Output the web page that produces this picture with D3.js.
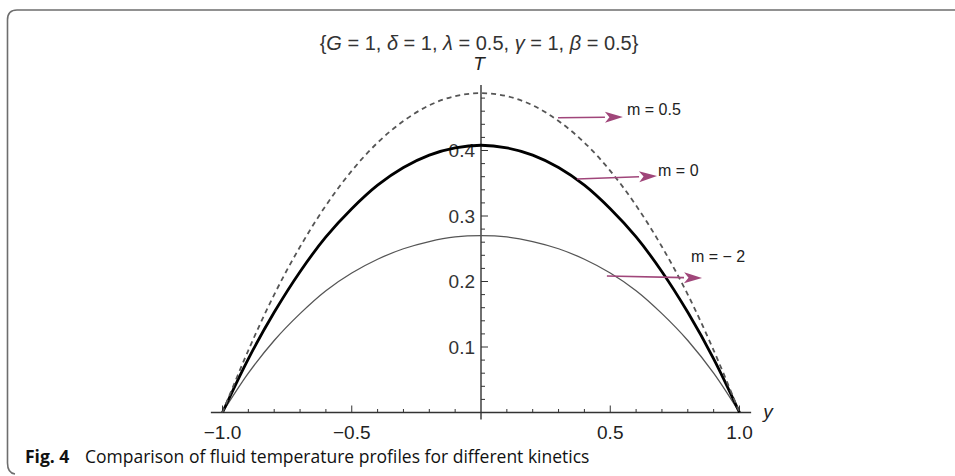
<!DOCTYPE html>
<html><head><meta charset="utf-8">
<script src="https://cdn.jsdelivr.net/npm/d3@7/dist/d3.min.js"></script>
<style>body{margin:0;background:#fff}svg{display:block}</style>
</head><body>
<svg id="c" width="955" height="476"></svg>
<script>
// ---- data ----
const yPos = [-1,-0.9,-0.8,-0.7,-0.6,-0.5,-0.4,-0.3,-0.2,-0.1,0,0.1,0.2,0.3,0.4,0.5,0.6,0.7,0.8,0.9,1];
const T_m05 = [0,0.095,0.180,0.253,0.316,0.369,0.412,0.445,0.469,0.483,0.4875,0.483,0.469,0.445,0.412,0.369,0.316,0.253,0.180,0.095,0];
const T_m0  = [0,0.082,0.153,0.215,0.268,0.311,0.347,0.374,0.393,0.404,0.408,0.404,0.393,0.374,0.347,0.311,0.268,0.215,0.153,0.082,0];
const T_m2  = [0,0.060,0.110,0.151,0.186,0.213,0.234,0.250,0.261,0.268,0.270,0.268,0.261,0.250,0.234,0.213,0.186,0.151,0.110,0.060,0];
const xMajor = [-1.0,-0.5,0.5,1.0];
const xMajorLabels = ["\u22121.0","\u22120.5","0.5","1.0"];
const yMajor = [0.1,0.2,0.3,0.4];
const yMajorLabels = ["0.1","0.2","0.3","0.4"];
const annLabels = ["m = 0.5","m = 0","m = \u2212 2"];
const annFrom = [[0.298,0.450],[0.371,0.3565],[0.487,0.2084]];
const annTo   = [[0.549,0.451],[0.681,0.361],[0.855,0.2053]];
const annText = [[0.565,0.462],[0.685,0.370],[0.812,0.239]];

const svg = d3.select("#c");
const x = d3.scaleLinear().domain([-1,1]).range([222.5,739.5]);
const y = d3.scaleLinear().domain([0,0.5]).range([412.5,85]);
const F = "'Liberation Sans', Arial, sans-serif";

// frame
svg.append("path").attr("d","M955,10 H17 Q7.5,10 7.5,20 V463 Q7.5,473 15,474")
  .attr("fill","none").attr("stroke","#6e6e6e").attr("stroke-width",1.6);

// axes
const ax = svg.append("g").attr("stroke","#333").attr("stroke-width",1.4);
ax.append("line").attr("x1",x(-1.045)).attr("x2",x(1.045)).attr("y1",y(0)).attr("y2",y(0));
ax.append("line").attr("x1",x(0)).attr("x2",x(0)).attr("y1",y(0)+7).attr("y2",y(0.5));
const xt = d3.range(-10,11).filter(d=>d!==0).map(d=>d/10);
ax.selectAll(".xt").data(xt).join("line")
  .attr("x1",d=>x(d)).attr("x2",d=>x(d)).attr("y1",y(0))
  .attr("y2",d=>y(0)-(Math.abs(Math.round(d*10))%5===0?7:3.5)).attr("stroke-width",1);
const yt = d3.range(1,25).map(d=>d/50);
ax.selectAll(".yt").data(yt).join("line")
  .attr("x1",x(0)).attr("x2",d=>x(0)+(Math.round(d*50)%5===0?7:4))
  .attr("y1",d=>y(d)).attr("y2",d=>y(d)).attr("stroke-width",1);

// tick labels
svg.selectAll(".xl").data(xMajor).join("text")
  .attr("x",d=>x(d)).attr("y",439).attr("text-anchor","middle")
  .attr("font-family",F).attr("font-size",19).attr("fill","#222")
  .text((d,i)=>xMajorLabels[i]);
svg.selectAll(".yl").data(yMajor).join("text")
  .attr("x",x(0)-6).attr("y",d=>y(d)).attr("dy","0.35em").attr("text-anchor","end")
  .attr("font-family",F).attr("font-size",19).attr("fill","#333")
  .text((d,i)=>yMajorLabels[i]);

// axis labels & title
svg.append("text").attr("x",x(0)-2).attr("y",70).attr("text-anchor","middle")
  .attr("font-family",F).attr("font-style","italic").attr("font-size",19).attr("fill","#222").text("T");
svg.append("text").attr("x",768).attr("y",418).attr("text-anchor","middle")
  .attr("font-family",F).attr("font-style","italic").attr("font-size",19).attr("fill","#222").text("y");
const tt = svg.append("text").attr("x",479).attr("y",50).attr("text-anchor","middle")
  .attr("font-family",F).attr("font-size",20).attr("fill","#333");
const parts = [["{",0],["G",1],[" = 1, ",0],["\u03b4",1],[" = 1, ",0],["\u03bb",1],[" = 0.5, ",0],["\u03b3",1],[" = 1, ",0],["\u03b2",1],[" = 0.5}",0]];
parts.forEach(p=>tt.append("tspan").attr("font-style",p[1]?"italic":"normal").text(p[0]));

// curves
const line = d3.line().x((d,i)=>x(yPos[i])).y(d=>y(d)).curve(d3.curveCatmullRom.alpha(0.5));
svg.append("path").attr("d",line(T_m2)).attr("fill","none").attr("stroke","#555").attr("stroke-width",1.3);
svg.append("path").attr("d",line(T_m0)).attr("fill","none").attr("stroke","#000").attr("stroke-width",2.8);
svg.append("path").attr("d",line(T_m05)).attr("fill","none").attr("stroke","#555").attr("stroke-width",1.8)
  .attr("stroke-dasharray","5,4");

// annotations
const col = "#a0467a";
annLabels.forEach((lab,i)=>{
  const x1=x(annFrom[i][0]), y1=y(annFrom[i][1]), x2=x(annTo[i][0]), y2=y(annTo[i][1]);
  const ang=Math.atan2(y2-y1,x2-x1), L=18, W=5.5;
  const bx=x2-L*Math.cos(ang), by=y2-L*Math.sin(ang);
  svg.append("line").attr("x1",x1).attr("y1",y1).attr("x2",bx).attr("y2",by)
    .attr("stroke",col).attr("stroke-width",1.6);
  const px=-Math.sin(ang), py=Math.cos(ang);
  svg.append("path").attr("d",`M${x2},${y2}L${bx+px*W},${by+py*W}L${bx+L*0.25*Math.cos(ang)},${by+L*0.25*Math.sin(ang)}L${bx-px*W},${by-py*W}Z`)
    .attr("fill",col);
  svg.append("text").attr("x",x(annText[i][0])).attr("y",y(annText[i][1])).attr("dy","0.35em")
    .attr("font-family",F).attr("font-size",16).attr("fill","#222").text(lab);
});

// caption
const cap = svg.append("text").attr("x",25).attr("y",462.5)
  .attr("font-family","'Open Sans','Noto Sans',sans-serif").attr("font-size",17.5).attr("fill","#111");
cap.append("tspan").attr("font-weight","bold").text("Fig. 4");
cap.append("tspan").attr("x",85).text("Comparison of fluid temperature profiles for different kinetics");
</script>
</body></html>
